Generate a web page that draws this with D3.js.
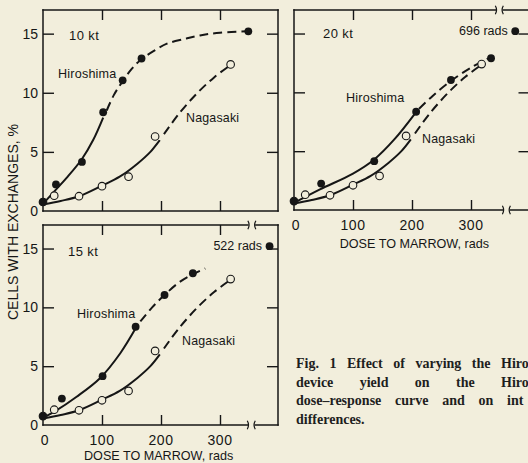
<!DOCTYPE html>
<html><head><meta charset="utf-8">
<script src="https://cdn.jsdelivr.net/npm/d3@7"></script>
<style>html,body{margin:0;padding:0;background:#f2eedc;overflow:hidden}</style>
</head><body>
<svg id="c" width="528" height="463"></svg>
<script>
// ---------- data ----------
const panelYields = ["10 kt", "20 kt", "15 kt"];
const xTickValues = [0, 100, 200, 300];
const yTickValues = [0, 5, 10, 15];
const yTitle = "CELLS WITH EXCHANGES, %";
const xTitle = "DOSE TO MARROW, rads";

// Nagasaki (open circles) – same in every panel
const nagaDose = [0, 19, 61, 100, 145, 190, 318];
const nagaPct  = [0.76, 1.3, 1.25, 2.1, 2.9, 6.3, 12.4];

// Hiroshima (filled circles) – dose depends on assumed yield
const hiroPct    = [0.76, 2.25, 4.15, 8.35, 11.05, 12.9];
const hiroDose10 = [0, 22, 66, 102, 135, 167];
const hiroDose20 = [0, 46, 136, 207, 266, 334];
const hiroDose15 = [0, 32, 101, 157, 206, 254];
const hiroHighDose = [348, 696, 522];   // highest-dose point per panel
const hiroHighPct  = 15.2;

// fitted curves [dose, %]
const nagaCurveSolid = [[0,0.55],[30,0.85],[61,1.25],[100,2.15],[130,2.9],[160,4.0],[182,5.0],[198,6.0]];
const nagaCurveDash  = [[205,6.5],[230,8.2],[260,9.9],[290,11.3],[318,12.35]];
const hiro10Solid = [[0,0.6],[20,1.7],[40,2.8],[66,4.4],[85,6.0],[102,7.9]];
const hiro10Dash  = [[108,8.5],[120,9.8],[134,10.9],[150,12.0],[166,12.8],[190,13.6],[210,14.15],[240,14.55],[266,14.85],[300,15.08],[345,15.2]];
const hiro20Solid = [[0,0.6],[44,1.75],[100,3.1],[136,4.3],[170,6.0],[205,8.2]];
const hiro20Dash  = [[212,8.6],[235,9.7],[264,10.9],[300,12.1],[334,13.0]];
const hiro15Solid = [[0,0.6],[20,1.15],[57,2.4],[97,4.0],[131,6.1],[158,8.3]];
const hiro15Dash  = [[165,8.8],[185,10.0],[205,11.0],[230,12.1],[255,12.85],[275,13.3]];

// caption as visible in the (cropped) figure
const captionLines = [
  ["Fig.", "1", "Effect", "of", "varying", "the", "Hiro"],
  ["device", "yield", "on", "the", "Hiro"],
  ["dose\u2013response", "curve", "and", "on", "int"],
  ["differences."]
];

// ---------- layout ----------
const INK = "#161616", BG = "#f2eedc";
const FONT = "'Liberation Sans', Arial, Helvetica, sans-serif";
const panels = [
  {yield: panelYields[0], left:43, right:278, top:10, bottom:211, hiroDose:hiroDose10,
   solid:hiro10Solid, dash:hiro10Dash, highIdx:0, highDisplay:null,
   xLabels:false, yLabels:true, rightTicks:true, breaksTop:null, breaksBottom:null,
   ktPos:[69,39.5], hPos:[58,78], nPos:[186,121.5], titleAt:0, titleDy:0},
  {yield: panelYields[1], left:294, right:529.5, top:10, bottom:210, hiroDose:hiroDose20,
   solid:hiro20Solid, dash:hiro20Dash, highIdx:1, highDisplay:375,
   xLabels:true, yLabels:false, rightTicks:true, breaksTop:348, breaksBottom:360,
   ktPos:[323,37.5], hPos:[346,101.5], nPos:[422,143], titleAt:204, titleDy:37.5},
  {yield: panelYields[2], left:43, right:278, top:225, bottom:425, hiroDose:hiroDose15,
   solid:hiro15Solid, dash:hiro15Dash, highIdx:2, highDisplay:384,
   xLabels:true, yLabels:true, rightTicks:true, breaksTop:354, breaksBottom:353,
   ktPos:[68,255.5], hPos:[77,318], nPos:[182,345], titleAt:196, titleDy:35}
];
const PX_PER_RAD = 177/300;

const svg = d3.select("#c");
svg.append("rect").attr("width",528).attr("height",463).attr("fill",BG);

function breakMark(g, x, y){
  const s = 4.2;
  g.append("path").attr("d",`M${x-4},${y-s} Q${x-1.5},${y} ${x-4},${y+s}`)
    .attr("fill","none").attr("stroke",INK).attr("stroke-width",1.2);
  g.append("path").attr("d",`M${x+4},${y-s} Q${x+1.5},${y} ${x+4},${y+s}`)
    .attr("fill","none").attr("stroke",INK).attr("stroke-width",1.2);
}

panels.forEach(p => {
  const g = svg.append("g");
  const x = d3.scaleLinear().domain([0,300]).range([p.left, p.left + 300*PX_PER_RAD]);
  const y = d3.scaleLinear().domain([0,17]).range([p.bottom, p.top]);

  // frame edges
  const edge = (x1,y1,x2,y2) => g.append("line").attr("x1",x1).attr("y1",y1).attr("x2",x2).attr("y2",y2)
      .attr("stroke",INK).attr("stroke-width",1.5).attr("stroke-linecap","square");
  edge(p.left,p.top,p.left,p.bottom);
  edge(p.right,p.top,p.right,p.bottom);
  [[p.top,p.breaksTop],[p.bottom,p.breaksBottom]].forEach(([yy,b]) => {
    if (b == null) edge(p.left,yy,p.right,yy);
    else {
      const bx = x(b);
      edge(p.left,yy,bx-4,yy); edge(bx+4,yy,p.right,yy);
      breakMark(g,bx,yy);
    }
  });

  // axes via d3 axis generators (ticks only, inward)
  const tickStyle = sel => { sel.select(".domain").remove();
    sel.selectAll(".tick line").attr("stroke",INK).attr("stroke-width",1.4);
    sel.selectAll(".tick text").remove(); };
  const xt = xTickValues.filter(v => v > 0);
  const yt = yTickValues.filter(v => v > 0);
  g.append("g").attr("transform",`translate(0,${p.bottom})`)
    .call(d3.axisTop(x).tickValues(xt).tickSize(10)).call(tickStyle);
  g.append("g").attr("transform",`translate(0,${p.top})`)
    .call(d3.axisBottom(x).tickValues(xt).tickSize(10)).call(tickStyle);
  g.append("g").attr("transform",`translate(${p.left},0)`)
    .call(d3.axisRight(y).tickValues(yt).tickSize(11)).call(tickStyle);
  if (p.rightTicks) g.append("g").attr("transform",`translate(${p.right},0)`)
    .call(d3.axisLeft(y).tickValues(yt).tickSize(11)).call(tickStyle);

  // tick labels
  if (p.yLabels) g.selectAll(null).data(yTickValues).join("text")
    .attr("x", p.left-5).attr("y", d => y(d)+5).attr("text-anchor","end")
    .attr("font-family",FONT).attr("font-size",14).attr("fill",INK).text(d => d);
  if (p.xLabels) {
    g.selectAll(null).data(xTickValues).join("text")
      .attr("x", d => x(d)+ (d===0?2:0)).attr("y", p.bottom+20).attr("text-anchor","middle")
      .attr("font-family",FONT).attr("font-size",14).attr("letter-spacing",0.6).attr("fill",INK).text(d => d);
    g.append("text").attr("x", x(p.titleAt)).attr("y", p.bottom+p.titleDy).attr("text-anchor","middle")
      .attr("font-family",FONT).attr("font-size",12.6).attr("fill",INK).text(xTitle);
  }

  // curves
  const line = d3.line().x(d => x(d[0])).y(d => y(d[1])).curve(d3.curveCatmullRom.alpha(0.5));
  const drawCurve = (pts, dashed) => g.append("path").attr("d", line(pts)).attr("fill","none")
      .attr("stroke",INK).attr("stroke-width",2)
      .attr("stroke-dasharray", dashed ? "9,5" : null);
  drawCurve(nagaCurveSolid,false); drawCurve(nagaCurveDash,true);
  drawCurve(p.solid,false); drawCurve(p.dash,true);

  // Nagasaki points (open)
  g.selectAll(null).data(nagaDose.map((d,i)=>[d,nagaPct[i]])).join("circle")
    .attr("cx", d => x(d[0])).attr("cy", d => y(d[1])).attr("r",3.8)
    .attr("fill",BG).attr("stroke",INK).attr("stroke-width",1.1);
  // Hiroshima points (filled)
  const hp = p.hiroDose.map((d,i)=>[d,hiroPct[i]]);
  g.selectAll(null).data(hp).join("circle")
    .attr("cx", d => x(d[0])).attr("cy", d => y(d[1])).attr("r",3.9).attr("fill",INK);
  // highest-dose Hiroshima point
  const hd = hiroHighDose[p.highIdx];
  const hx = x(p.highDisplay == null ? hd : p.highDisplay);
  g.append("circle").attr("cx",hx).attr("cy",y(hiroHighPct)).attr("r",3.9).attr("fill",INK);
  if (p.highDisplay != null)
    g.append("text").attr("x",hx-7.5).attr("y",y(hiroHighPct)+4.3).attr("text-anchor","end")
      .attr("font-family",FONT).attr("font-size",12.5).attr("fill",INK).text(hd + " rads");

  // labels
  g.append("text").attr("x",p.ktPos[0]).attr("y",p.ktPos[1]).attr("font-family",FONT)
    .attr("font-size",13).attr("letter-spacing",0.4).attr("fill",INK).text(p.yield);
  g.append("text").attr("x",p.hPos[0]).attr("y",p.hPos[1]).attr("font-family",FONT)
    .attr("font-size",12.6).attr("letter-spacing",0.2).attr("fill",INK).text("Hiroshima");
  g.append("text").attr("x",p.nPos[0]).attr("y",p.nPos[1]).attr("font-family",FONT)
    .attr("font-size",12.4).attr("letter-spacing",0.2).attr("fill",INK).text("Nagasaki");
});

// y-axis title
svg.append("text").attr("transform","translate(18,222) rotate(-90)").attr("text-anchor","middle")
  .attr("font-family",FONT).attr("font-size",14).attr("fill",INK).text(yTitle);

// caption (justified lines)
const capX = 296, capBase = [368, 386.5, 405, 423.5], capLast = [501, 501, 507, null];
captionLines.forEach((words, li) => {
  const t = svg.append("g");
  const nodes = words.map(w => t.append("text").attr("y",capBase[li])
    .attr("font-family","'Liberation Serif', 'Times New Roman', serif").attr("font-weight","bold")
    .attr("font-size",14).attr("fill","#1e1e1e").text(w));
  if (capLast[li] == null) { nodes[0].attr("x",capX); return; }
  const widths = nodes.map(n => n.node().getComputedTextLength());
  const inner = widths.slice(0,-1).reduce((a,b)=>a+b,0);
  const gap = (capLast[li] - capX - inner) / (words.length-1);
  let cx = capX;
  nodes.forEach((n,i) => { n.attr("x",cx); cx += widths[i] + gap; });
});
</script>
</body></html>
